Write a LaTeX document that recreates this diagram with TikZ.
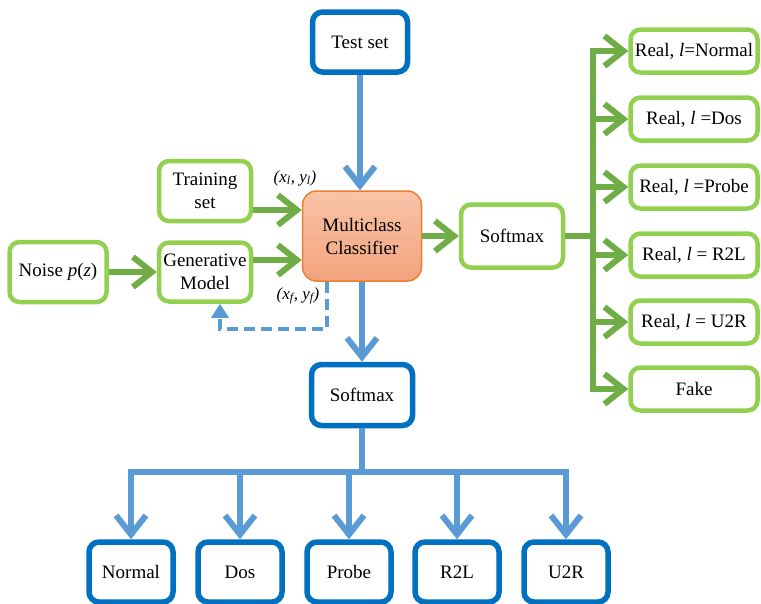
\documentclass[tikz,border=0pt]{standalone}
\usepackage{fontspec}
\setmainfont{Liberation Serif}
\newfontfamily\tnr{Liberation Serif}
\usetikzlibrary{arrows.meta,calc}
\definecolor{boxgreen}{RGB}{146,208,80}
\definecolor{arrgreen}{RGB}{112,173,71}
\definecolor{boxblue}{RGB}{0,112,192}
\definecolor{arrblue}{RGB}{91,155,213}
\definecolor{clfborder}{RGB}{237,125,49}
\definecolor{clftop}{RGB}{248,196,168}
\definecolor{clfbot}{RGB}{243,163,126}
\tikzset{
  txt/.style={font=\tnr\fontsize{19}{23}\selectfont, align=center},
  gbox/.style={txt, draw=boxgreen, line width=4.5pt, rounded corners=10pt, fill=white, inner sep=0pt},
  bbox/.style={txt, draw=boxblue, line width=5.5pt, rounded corners=10pt, fill=white, inner sep=0pt},
  gline/.style={draw=arrgreen, line width=6pt},
  bline/.style={draw=arrblue, line width=6pt},
  garrow/.style={gline, -{Straight Barb[length=19pt,width=30pt]}},
  barrow/.style={bline, -{Straight Barb[length=19pt,width=30pt]}},
  lbl/.style={font=\tnr\fontsize{17}{20}\selectfont\itshape}
}
\begin{document}
\begin{tikzpicture}[x=1pt,y=-1pt]
\useasboundingbox (0,0) rectangle (761,603);
% nodes
\node[bbox, minimum width=95pt, minimum height=60pt] (test) at (360,42) {Test set};
\node[txt, draw=clfborder, line width=1.5pt, rounded corners=14pt, top color=clftop, bottom color=clfbot,
      minimum width=119pt, minimum height=90pt] (clf) at (362,236) {Multiclass\\Classifier};
\node[gbox, minimum width=92pt, minimum height=60pt] (train) at (205,191) {Training\\set};
\node[gbox, minimum width=92pt, minimum height=59pt] (gen) at (205,272) {Generative\\Model};
\node[gbox, minimum width=97pt, minimum height=60pt] (noise) at (58,272) {Noise \textit{p}(\textit{z})};
\node[gbox, minimum width=102pt, minimum height=63pt] (smr) at (512,236) {Softmax};
\node[bbox, minimum width=101pt, minimum height=61pt] (smb) at (362,395) {Softmax};
% right column
\node[gbox, minimum width=127pt, minimum height=43pt] (r1) at (694,51) {Real, \textit{l}=Normal};
\node[gbox, minimum width=127pt, minimum height=43pt] (r2) at (694,119) {Real, \textit{l} =Dos};
\node[gbox, minimum width=127pt, minimum height=43pt] (r3) at (694,187) {Real, \textit{l} =Probe};
\node[gbox, minimum width=127pt, minimum height=43pt] (r4) at (694,255) {Real, \textit{l} = R2L};
\node[gbox, minimum width=127pt, minimum height=43pt] (r5) at (694,322) {Real, \textit{l} = U2R};
\node[gbox, minimum width=127pt, minimum height=43pt] (r6) at (694,389) {Fake};
% bottom row
\node[bbox, minimum width=84pt, minimum height=60pt] (b1) at (131,572) {Normal};
\node[bbox, minimum width=84pt, minimum height=60pt] (b2) at (240,572) {Dos};
\node[bbox, minimum width=84pt, minimum height=60pt] (b3) at (349,572) {Probe};
\node[bbox, minimum width=84pt, minimum height=60pt] (b4) at (457,572) {R2L};
\node[bbox, minimum width=84pt, minimum height=60pt] (b5) at (566,572) {U2R};
% labels
\node[lbl] (ll) at (295,178) {(x\textsubscript{l}, y\textsubscript{l})};
\node[lbl] (lf) at (298,296) {(x\textsubscript{f}, y\textsubscript{f})};
% coordinates
\coordinate (rb) at (593,236);
\coordinate (bb) at (362,472);
% connectors
\draw[garrow] (noise.east) -- (gen.west);
\draw[garrow] ([yshift=-19pt]train.east) -- ([yshift=-19pt]train.east -| clf.west);
\draw[garrow] ([yshift=12pt]gen.east) -- ([yshift=12pt]gen.east -| clf.west);
\draw[barrow] (test.south) -- (test.south |- clf.north);
\draw[garrow] (clf.east) -- (smr.west);
\draw[barrow] (clf.south -| smb.north) -- (smb.north);
% right bus
\draw[gline] (smr.east) -- (rb);
\draw[gline, line cap=rect] (rb |- r1.west) -- (rb |- r6.west);
\foreach \r in {r1,r2,r3,r4,r5,r6} \draw[garrow] (rb |- \r.west) -- (\r.west);
% bottom bus
\draw[bline] (smb.south) -- (smb.south |- bb);
\draw[bline, line cap=rect] (bb -| b1.north) -- (bb -| b5.north);
\foreach \b in {b1,b2,b3,b4,b5} \draw[barrow] (bb -| \b.north) -- (\b.north);
% dashed feedback
\draw[draw=arrblue, line width=3.5pt, dash pattern=on 11pt off 6pt, -{Triangle[length=14pt,width=17pt]}]
  ([xshift=-35pt]clf.south) -- ++(0,47) -| ([xshift=15pt]gen.south);
\end{tikzpicture}
\end{document}
